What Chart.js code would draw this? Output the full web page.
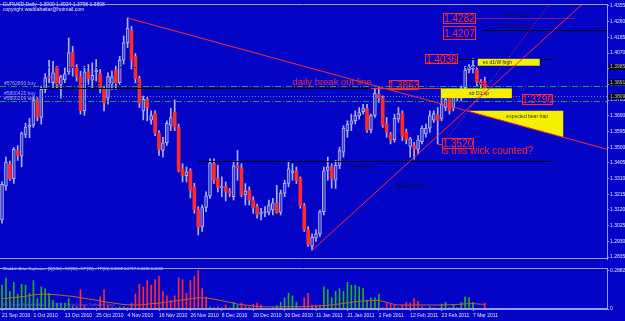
<!DOCTYPE html>
<html>
<head>
<meta charset="utf-8">
<script src="https://cdn.jsdelivr.net/npm/chart.js@4.4.1/dist/chart.umd.min.js"></script>
<style>
  html, body { margin: 0; padding: 0; background: #0404c6; }
  #wrap { position: relative; width: 625px; height: 321px; overflow: hidden; background: #0404c6; }
  #mainBox { position: absolute; left: 0; top: 0; width: 625px; height: 263px; }
  #indBox { position: absolute; left: 0; top: 264px; width: 625px; height: 57px; }
</style>
</head>
<body>
<div id="wrap">
  <div id="mainBox"><canvas id="mainChart"></canvas></div>
  <div id="indBox"><canvas id="indChart"></canvas></div>
</div>
<script>
// EURUSD daily, 21 Sep 2010 .. 10 Mar 2011 (bar index 0..123)
let opens = [
  1.3060,1.3265,1.3398,1.3310,1.3481,1.3445,1.3574,1.3621,1.3633,1.3790,
  1.3680,1.3850,1.3925,1.3890,1.3985,1.3880,1.3909,1.3956,1.4073,1.3985,
  1.3927,1.3721,1.3956,1.3905,1.3956,1.3944,1.3850,1.3797,1.3886,1.3967,
  1.3890,1.4026,1.4132,1.4208,1.4050,1.3915,1.3720,1.3790,1.3663,1.3704,
  1.3586,1.3481,1.3527,1.3633,1.3710,1.3621,1.3369,1.3328,1.3357,1.3260,
  1.3123,1.3017,1.3135,1.3205,1.3400,1.3310,1.3255,1.3262,1.3234,1.3200,
  1.3387,1.3375,1.3211,1.3240,1.3181,1.3140,1.3094,1.3105,1.3105,1.3120,
  1.3160,1.3105,1.3222,1.3281,1.3345,1.3357,1.3310,1.3146,1.3000,1.2900,
  1.2950,1.2975,1.3110,1.3360,1.3381,1.3300,1.3390,1.3470,1.3600,1.3640,
  1.3660,1.3690,1.3715,1.3733,1.3604,1.3692,1.3821,1.3797,1.3640,1.3575,
  1.3545,1.3670,1.3704,1.3590,1.3504,1.3510,1.3487,1.3533,1.3580,1.3615,
  1.3663,1.3692,1.3674,1.3740,1.3797,1.3740,1.3815,1.3797,1.3860,1.3967,
  1.3974,1.3967,1.3897,1.3900
];
let highs = [
  1.3290,1.3440,1.3416,1.3498,1.3510,1.3592,1.3645,1.3674,1.3810,1.3800,
  1.3870,1.3945,1.4026,1.4020,1.3990,1.3935,1.3980,1.4161,1.4110,1.4000,
  1.3960,1.3990,1.4000,1.4010,1.4030,1.3970,1.3870,1.3950,1.3960,1.3990,
  1.4050,1.4173,1.4282,1.4232,1.4067,1.3930,1.3810,1.3800,1.3720,1.3720,
  1.3600,1.3560,1.3660,1.3735,1.3786,1.3640,1.3400,1.3380,1.3370,1.3281,
  1.3140,1.3150,1.3230,1.3430,1.3430,1.3390,1.3320,1.3290,1.3250,1.3416,
  1.3480,1.3400,1.3280,1.3260,1.3200,1.3155,1.3130,1.3140,1.3180,1.3190,
  1.3269,1.3240,1.3300,1.3416,1.3400,1.3380,1.3320,1.3160,1.3020,1.2975,
  1.3000,1.3120,1.3380,1.3440,1.3400,1.3420,1.3500,1.3630,1.3660,1.3700,
  1.3720,1.3740,1.3760,1.3760,1.3700,1.3850,1.3862,1.3810,1.3680,1.3590,
  1.3700,1.3740,1.3720,1.3610,1.3560,1.3530,1.3570,1.3630,1.3640,1.3720,
  1.3720,1.3740,1.3800,1.3810,1.3820,1.3830,1.3840,1.3870,1.3990,1.4000,
  1.4036,1.3985,1.3910,1.3924
];
let lows = [
  1.3040,1.3240,1.3299,1.3281,1.3420,1.3381,1.3557,1.3557,1.3620,1.3660,
  1.3640,1.3830,1.3890,1.3855,1.3860,1.3797,1.3890,1.3940,1.3930,1.3900,
  1.3700,1.3692,1.3880,1.3860,1.3900,1.3830,1.3720,1.3760,1.3850,1.3850,
  1.3880,1.4003,1.4103,1.3973,1.3885,1.3740,1.3665,1.3660,1.3640,1.3570,
  1.3450,1.3440,1.3510,1.3600,1.3600,1.3350,1.3290,1.3290,1.3193,1.3100,
  1.2969,1.2990,1.3110,1.3190,1.3280,1.3230,1.3200,1.3175,1.3200,1.3180,
  1.3300,1.3200,1.3150,1.3150,1.3100,1.3070,1.3060,1.3080,1.3090,1.3090,
  1.3100,1.3090,1.3200,1.3260,1.3300,1.3280,1.3130,1.2990,1.2900,1.2876,
  1.2930,1.2960,1.3090,1.3300,1.3252,1.3250,1.3370,1.3440,1.3560,1.3600,
  1.3640,1.3670,1.3700,1.3590,1.3586,1.3680,1.3770,1.3620,1.3560,1.3520,
  1.3530,1.3650,1.3540,1.3520,1.3440,1.3428,1.3460,1.3520,1.3560,1.3590,
  1.3650,1.3520,1.3660,1.3720,1.3700,1.3720,1.3780,1.3780,1.3850,1.3950,
  1.3950,1.3870,1.3860,1.3798
];
let closes = [
  1.3275,1.3410,1.3310,1.3487,1.3451,1.3586,1.3621,1.3633,1.3785,1.3680,
  1.3850,1.3920,1.3920,1.3950,1.3880,1.3927,1.3944,1.4073,1.3985,1.3927,
  1.3721,1.3956,1.3915,1.3935,1.3967,1.3856,1.3768,1.3927,1.3927,1.3886,
  1.4026,1.4132,1.4220,1.4026,1.3915,1.3768,1.3790,1.3740,1.3692,1.3586,
  1.3486,1.3527,1.3645,1.3680,1.3621,1.3357,1.3328,1.3351,1.3240,1.3123,
  1.3017,1.3135,1.3205,1.3405,1.3299,1.3258,1.3262,1.3234,1.3222,1.3387,
  1.3375,1.3211,1.3234,1.3181,1.3135,1.3094,1.3105,1.3108,1.3150,1.3164,
  1.3105,1.3222,1.3281,1.3369,1.3357,1.3299,1.3146,1.3000,1.2911,1.2955,
  1.2976,1.3110,1.3357,1.3381,1.3310,1.3390,1.3480,1.3615,1.3640,1.3660,
  1.3692,1.3710,1.3733,1.3604,1.3692,1.3827,1.3797,1.3633,1.3590,1.3545,
  1.3674,1.3704,1.3565,1.3545,1.3551,1.3490,1.3545,1.3615,1.3615,1.3692,
  1.3704,1.3663,1.3762,1.3790,1.3721,1.3815,1.3797,1.3850,1.3967,1.3985,
  1.3997,1.3897,1.3880,1.3808
];

let dateLabels = ['21 Sep 2010', '1 Oct 2010', '13 Oct 2010', '25 Oct 2010', '4 Nov 2010',
  '16 Nov 2010', '26 Nov 2010', '8 Dec 2010', '20 Dec 2010', '30 Dec 2010', '11 Jan 2011',
  '21 Jan 2011', '2 Feb 2011', '12 Feb 2011', '23 Feb 2011', '7 Mar 2011'];
let dateTicks = [0, 8, 16, 24, 32, 40, 48, 56, 64, 72, 80, 88, 96, 104, 112, 120];
let priceTicks = [1.4355, 1.4260, 1.4165, 1.4070, 1.3975, 1.3880, 1.3785, 1.3690, 1.3595,
  1.3500, 1.3405, 1.3310, 1.3215, 1.3120, 1.3025, 1.2930, 1.2835];

// Waddah Attar Explosion histogram + explosion line
let waeValue = [
  0.178,0.232,0.131,0.199,0.111,0.185,0.178,0.118,0.212,0.077,
  0.165,0.152,0.118,0.064,0.044,0.044,0.044,0.077,0.020,0.020,
  0.145,0.030,0.010,0.010,0.010,0.091,0.145,0.030,0.010,0.010,
  0.017,0.017,0.010,0.044,0.111,0.185,0.165,0.212,0.178,0.219,
  0.246,0.131,0.098,0.064,0.098,0.232,0.219,0.118,0.212,0.246,
  0.288,0.152,0.090,0.017,0.010,0.017,0.010,0.030,0.010,0.050,
  0.030,0.044,0.024,0.017,0.037,0.044,0.030,0.005,0.005,0.010,
  0.024,0.050,0.084,0.118,0.098,0.050,0.010,0.084,0.118,0.030,
  0.030,0.030,0.165,0.145,0.084,0.131,0.152,0.131,0.199,0.178,
  0.178,0.165,0.152,0.064,0.084,0.084,0.111,0.010,0.044,0.037,
  0.030,0.010,0.030,0.050,0.044,0.077,0.057,0.017,0.005,0.017,
  0.010,0.005,0.037,0.050,0.010,0.030,0.010,0.050,0.091,0.084,
  0.050,0.005,0.003,0.044
];
let waeDir = ('uuuuuuuuuu' + 'uuuuuuuuud' + 'dddddddddd' + 'uudddddddd' + 'dddddddddd' +
  'dddudddddu' + 'uddddddddu' + 'uuuuuudddd' + 'dduuuuuuuu' + 'uuuuuuuddd' +
  'dudddddduu' + 'uuuuuuuuuu' + 'uuud').split('');
let explosion = [
  0.077,0.080,0.083,0.086,0.088,0.091,0.095,0.100,0.105,0.108,
  0.111,0.111,0.110,0.108,0.106,0.104,0.100,0.097,0.094,0.090,
  0.084,0.080,0.075,0.070,0.066,0.060,0.056,0.050,0.046,0.042,
  0.037,0.034,0.032,0.030,0.030,0.030,0.032,0.036,0.040,0.042,
  0.044,0.048,0.052,0.056,0.060,0.064,0.068,0.072,0.076,0.080,
  0.084,0.084,0.082,0.079,0.074,0.068,0.062,0.056,0.050,0.044,
  0.037,0.033,0.030,0.026,0.022,0.018,0.017,0.016,0.016,0.016,
  0.016,0.016,0.017,0.018,0.018,0.018,0.018,0.019,0.020,0.021,
  0.022,0.024,0.026,0.028,0.030,0.034,0.038,0.042,0.046,0.050,
  0.054,0.057,0.060,0.062,0.063,0.064,0.064,0.058,0.050,0.042,
  0.034,0.030,0.030,0.030,0.030,0.030,0.030,0.030,0.030,0.030,
  0.030,0.030,0.030,0.031,0.032,0.033,0.034,0.036,0.038,0.040,
  0.040,0.038,0.036,0.035
];

// drawn objects, in bar index / price
let trendDown = [[32, 1.4282], [154.2, 1.3487]];
let trendUp = [[79, 1.2876], [147.9, 1.4367]];
let trendDot = [[113, 1.3540], [139.5, 1.4367]];
let bearTrap = [[118.5, 1.3720], [143, 1.3720], [143, 1.3560]];

const AXIS = '#9a9af0';
const TXT = '#e4e4ff';
const FONT = '"Liberation Sans", Arial, sans-serif';
Chart.defaults.font.family = FONT;
Chart.defaults.animation = false;

const xMin = -0.51, xMax = 154.14;

let wicks = opens.map((o, i) => ({ x: i, y: [lows[i], highs[i]] }));
let bodies = opens.map((o, i) => ({ x: i, y: [Math.min(o, closes[i]), Math.max(o, closes[i])] }));
let isBull = opens.map((o, i) => closes[i] >= o);

function frame(color) {
  return {
    id: 'frame',
    afterDraw(chart) {
      const { ctx, chartArea: a } = chart;
      ctx.save();
      ctx.strokeStyle = color;
      ctx.lineWidth = 1;
      ctx.beginPath();
      ctx.moveTo(a.left, a.top + 0.5); ctx.lineTo(a.right, a.top + 0.5);
      ctx.moveTo(a.left, a.bottom - 0.5); ctx.lineTo(a.right, a.bottom - 0.5);
      ctx.stroke();
      ctx.restore();
    }
  };
}

const marks = {
  id: 'marks',
  afterDatasetsDraw(chart) {
    const { ctx, chartArea: a, scales: { x, y } } = chart;
    const X = v => x.getPixelForValue(v);
    const Y = v => y.getPixelForValue(v);
    ctx.save();
    ctx.beginPath();
    ctx.rect(a.left, a.top, a.right - a.left, a.bottom - a.top);
    ctx.clip();

    function hline(p, i0, i1, color, dash) {
      ctx.save();
      ctx.strokeStyle = color; ctx.lineWidth = 1; ctx.setLineDash(dash || []);
      const yy = Math.round(Y(p)) + 0.5;
      ctx.beginPath(); ctx.moveTo(X(i0), yy); ctx.lineTo(X(i1), yy); ctx.stroke();
      ctx.restore();
    }
    function seg(pts, color, dash) {
      ctx.save();
      ctx.strokeStyle = color; ctx.lineWidth = 1; ctx.setLineDash(dash || []);
      ctx.beginPath(); ctx.moveTo(X(pts[0][0]), Y(pts[0][1])); ctx.lineTo(X(pts[1][0]), Y(pts[1][1])); ctx.stroke();
      ctx.restore();
    }
    function text(s, i, p, size, color, align) {
      ctx.font = size + 'px ' + FONT;
      ctx.fillStyle = color; ctx.textAlign = align || 'left'; ctx.textBaseline = 'middle';
      ctx.fillText(s, X(i), Y(p));
    }
    function priceBox(s, i0, i1, pTop, pBot) {
      ctx.save();
      ctx.strokeStyle = '#ff2a2a'; ctx.lineWidth = 1;
      const x0 = Math.round(X(i0)) + 0.5, x1 = Math.round(X(i1)) + 0.5;
      const y0 = Math.round(Y(pTop)) + 0.5, y1 = Math.round(Y(pBot)) + 0.5;
      ctx.strokeRect(x0, y0, x1 - x0, y1 - y0);
      ctx.font = '10px ' + FONT;
      ctx.fillStyle = '#ff2a2a'; ctx.textAlign = 'center'; ctx.textBaseline = 'middle';
      ctx.fillText(s, (x0 + x1) / 2, (y0 + y1) / 2 + 1);
      ctx.restore();
    }
    function yellow(i0, i1, pTop, pBot) {
      ctx.fillStyle = '#f4f000';
      ctx.fillRect(X(i0), Y(pTop), X(i1) - X(i0), Y(pBot) - Y(pTop));
    }

    // account order lines
    hline(1.3985, xMin, xMax, '#00008a', [1, 2]);
    hline(1.3891, xMin, xMax, '#00008a', [1, 2]);
    hline(1.3868, xMin, xMax, '#1e9a5a', [6, 2, 1, 2]);
    hline(1.3809, xMin, xMax, '#7a7ac8', [1, 2]);
    hline(1.3780, xMin, xMax, '#1e9a5a', [6, 2, 1, 2]);
    text('#5762893 buy', 0.5, 1.3883, 5, '#a8a8e0');
    text('#5800425 buy', 0.5, 1.3826, 5, '#a8a8e0');
    text('#5800209 sell', 0.5, 1.3794, 5, '#a8a8e0');

    // key levels
    hline(1.3860, 9, 113, '#000000');
    hline(1.3416, 50, 140, '#000000');
    hline(1.4207, 122.6, 155, '#000000');
    hline(1.4036, 116, 140, '#000000');
    hline(1.4282, 120.6, 146, '#ff2a2a', [1, 1]);
    hline(1.3860, 94, 112, '#ff2a2a');
    text('4 nov 10 high', 127, 1.4302, 5, '#101030');
    text('12 dec 09 low', 127, 1.4227, 5, '#101030');

    // yellow notes
    yellow(121.2, 137, 1.4035, 1.3993);
    text('ex d1/W high', 122.5, 1.4014, 5, '#202020');
    yellow(111.8, 129.9, 1.3856, 1.3797);
    text('str D1 sp', 119, 1.3822, 5, '#202020');

    // trap triangle
    ctx.fillStyle = '#f4f000';
    ctx.beginPath();
    ctx.moveTo(X(bearTrap[0][0]), Y(bearTrap[0][1]));
    ctx.lineTo(X(bearTrap[1][0]), Y(bearTrap[1][1]));
    ctx.lineTo(X(bearTrap[2][0]), Y(bearTrap[2][1]));
    ctx.closePath(); ctx.fill();
    text('expected bear trap', 128.5, 1.3685, 5, '#303020');

    // trend lines
    seg(trendDown, '#ff2a2a');
    seg(trendUp, '#ff2a2a');
    seg(trendDot, '#ff2a2a', [1, 2]);

    // red price notes
    priceBox('1.4282', 112.4, 120.6, 1.4313, 1.4249);
    priceBox('1.4207', 112.4, 120.6, 1.4231, 1.4155);
    priceBox('1.4036', 107.8, 116, 1.4067, 1.4008);
    priceBox('1.3863', 98.5, 106, 1.3909, 1.3850);
    priceBox('1.3796', 132.5, 140.2, 1.3821, 1.3762);
    priceBox('1.3520', 112.2, 120, 1.3553, 1.3494);
    hline(1.3520, 111, 112.2, '#ff2a2a');
    text('daily break out line', 74, 1.3890, 9.5, '#ff2a2a');
    text('is this wick counted?', 112, 1.3475, 10, '#ff2a2a');

    text('weak bull T1', 88.2, 1.3381, 5, '#101030');
    text('Strong bull T1', 100.3, 1.3261, 5, '#101030');
    hline(1.3284, 100.5, 104, '#101030', [1, 1]);

    ctx.restore();

    // header
    ctx.save();
    ctx.font = '5px ' + FONT;
    ctx.fillStyle = TXT; ctx.textAlign = 'left'; ctx.textBaseline = 'middle';
    ctx.fillText('EURUSD,Daily  1.3900 1.3924 1.3798 1.3808', 3, 5);
    ctx.fillText('copyright waddahattar@hotmail.com', 3, 10);
    // line price tags on the axis
    [1.3985, 1.3891, 1.3809].forEach(p => {
      const yy = Y(p);
      ctx.fillStyle = '#000000';
      ctx.fillRect(a.right + 2, yy - 3, 16, 6);
      ctx.fillStyle = '#c8c8c8';
      ctx.fillText(p.toFixed(4), a.right + 3, yy);
    });
    ctx.restore();
  }
};

new Chart(document.getElementById('mainChart'), {
  type: 'bar',
  plugins: [marks, frame(AXIS)],
  data: {
    datasets: [
      {
        label: 'wick',
        data: wicks,
        grouped: false,
        order: 2,
        barThickness: 1,
        backgroundColor: '#b0b0ec'
      },
      {
        label: 'body',
        data: bodies,
        grouped: false,
        order: 1,
        barThickness: 3,
        minBarLength: 1,
        borderSkipped: false,
        borderWidth: isBull.map(b => b ? 1 : 0),
        borderColor: '#b4b4ee',
        backgroundColor: isBull.map(b => b ? '#3a3ad6' : '#ff2a2a')
      }
    ]
  },
  options: {
    responsive: true,
    maintainAspectRatio: false,
    devicePixelRatio: 1,
    layout: { padding: 0 },
    scales: {
      x: {
        type: 'linear',
        min: xMin,
        max: xMax,
        offset: false,
        display: false
      },
      y: {
        type: 'linear',
        position: 'right',
        min: 1.28233,
        max: 1.43667,
        afterBuildTicks: scale => { scale.ticks = priceTicks.map(v => ({ value: v })); },
        afterFit: scale => { scale.width = 18; },
        border: { color: AXIS },
        grid: { drawOnChartArea: false, color: AXIS, tickLength: 2 },
        ticks: {
          padding: 1,
          color: TXT,
          font: { size: 5 },
          callback: v => v.toFixed(4)
        }
      }
    },
    plugins: {
      legend: { display: false },
      tooltip: { enabled: false }
    }
  }
});

const indTitle = {
  id: 'indTitle',
  afterDraw(chart) {
    const { ctx } = chart;
    ctx.save();
    ctx.font = '4px ' + FONT;
    ctx.fillStyle = TXT; ctx.textAlign = 'left'; ctx.textBaseline = 'middle';
    ctx.fillText('Waddah Attar Explosion: [5](150) - DZ(30) - EP(15) - TP(15) 0.0808 0.0717 0.0615 0.0030', 3, 5);
    ctx.fillStyle = '#6a6ac0';
    ctx.fillText('FX Quant Market Index - (c) 2009 - MetaQuotes Software Corp.', 3, 41);
    ctx.restore();
  }
};

new Chart(document.getElementById('indChart'), {
  type: 'bar',
  plugins: [indTitle, frame(AXIS)],
  data: {
    datasets: [
      {
        type: 'line',
        label: 'explosion',
        data: explosion.map((v, i) => ({ x: i, y: v })),
        order: 1,
        borderColor: '#c06428',
        borderWidth: 1,
        pointRadius: 0,
        tension: 0
      },
      {
        label: 'trend',
        data: waeValue.map((v, i) => ({ x: i, y: v })),
        grouped: false,
        order: 2,
        barThickness: 1,
        backgroundColor: waeDir.map(d => d === 'u' ? '#22b022' : '#ff2a2a')
      }
    ]
  },
  options: {
    responsive: true,
    maintainAspectRatio: false,
    devicePixelRatio: 1,
    layout: { padding: 0 },
    scales: {
      x: {
        type: 'linear',
        min: xMin,
        max: xMax,
        offset: false,
        afterBuildTicks: scale => { scale.ticks = dateTicks.map(v => ({ value: v })); },
        afterFit: scale => { scale.height = 12; },
        border: { color: AXIS },
        grid: { drawOnChartArea: false, color: AXIS, tickLength: 2, offset: false },
        ticks: {
          align: 'start',
          autoSkip: false,
          maxRotation: 0,
          padding: 2,
          color: TXT,
          font: { size: 5 },
          callback: (v, idx) => dateLabels[idx]
        }
      },
      y: {
        type: 'linear',
        position: 'right',
        min: 0,
        max: 0.3064,
        afterBuildTicks: scale => { scale.ticks = [{ value: 0 }, { value: 0.2882 }]; },
        afterFit: scale => { scale.width = 18; },
        border: { color: AXIS },
        grid: { drawOnChartArea: false, color: AXIS, tickLength: 2 },
        ticks: {
          padding: 1,
          color: TXT,
          font: { size: 5 },
          callback: v => v === 0 ? '0' : v.toFixed(4)
        }
      }
    },
    plugins: {
      legend: { display: false },
      tooltip: { enabled: false }
    }
  }
});
</script>
</body>
</html>
